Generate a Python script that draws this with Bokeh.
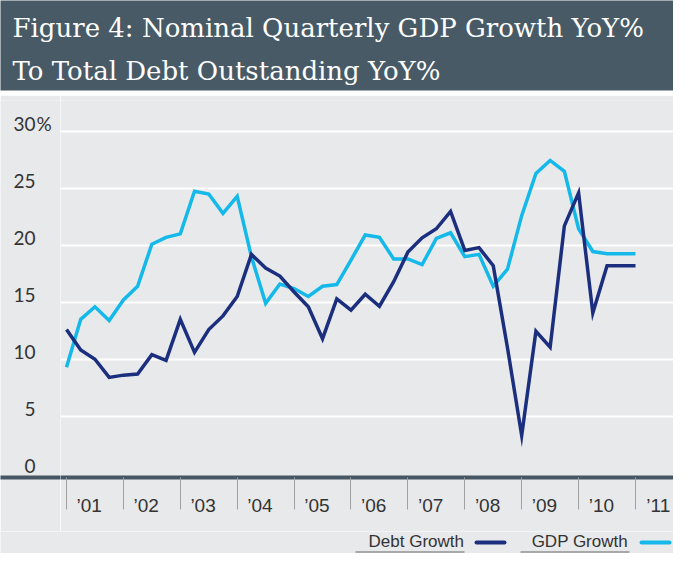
from bokeh.plotting import figure
from bokeh.models import Range1d, FixedTicker, Label, Grid
from bokeh.layouts import column, row
from bokeh.embed import file_html
from bokeh.resources import INLINE

# ---- data -------------------------------------------------------------
years = list(range(2001, 2012))
year_labels = ["’01", "’02", "’03", "’04", "’05", "’06", "’07", "’08", "’09", "’10", "’11"]
quarters = [f"{y}Q{q}" for y in range(2001, 2011) for q in range(1, 5)] + ["2011Q1"]
quarter_x = [int(s[:4]) + (int(s[5]) - 1) * 0.25 for s in quarters]

gdp_growth = [9.3, 13.5, 14.6, 13.4, 15.2, 16.4, 20.1, 20.7, 21.0, 24.75,
              24.5, 22.8, 24.3, 19.0, 14.9, 16.6, 16.2, 15.5, 16.4, 16.55,
              18.7, 20.9, 20.7, 18.8, 18.8, 18.3, 20.6, 21.1, 19.0, 19.2,
              16.4, 17.9, 22.6, 26.3, 27.45, 26.5, 21.45, 19.45, 19.25, 19.25,
              19.25]
debt_growth = [12.6, 10.8, 10.0, 8.4, 8.6, 8.7, 10.4, 9.9, 13.5, 10.6,
               12.6, 13.8, 15.5, 19.2, 18.0, 17.3, 15.9, 14.6, 11.8, 15.3,
               14.3, 15.7, 14.65, 16.8, 19.4, 20.65, 21.45, 22.97, 19.55, 19.8,
               18.2, 11.0, 3.3, 12.45, 11.05, 21.7, 24.6, 14.05, 18.2, 18.2,
               18.2]
y_ticks = [0, 5, 10, 15, 20, 25, 30]
y_labels = ["0", "5", "10", "15", "20", "25", "30"]
y_unit = "%"
title_lines = ["Figure 4: Nominal Quarterly GDP Growth YoY%",
               "To Total Debt Outstanding YoY%"]
series_names = ["Debt Growth", "GDP Growth"]

# ---- style ------------------------------------------------------------
BG = "#e8e9eb"
HEADER = "#475a66"
AXIS = "#465763"
DARK = "#1c2f7e"
LIGHT = "#14b9ea"
TXT = "#333333"
SANS = "Liberation Sans"
W, H = 673, 553
BASE_SHIFT = 0.37          # em offset of rendered baseline below anchor
LABEL_POS = 0.40           # year-label position inside each year band


def base_fig(**kw):
    f = figure(output_backend="svg", toolbar_location=None, **kw)
    f.background_fill_color = BG
    f.border_fill_color = BG
    f.outline_line_color = None
    f.grid.visible = False
    return f


# ---- header -----------------------------------------------------------
HH = 95
head = base_fig(width=W, height=HH, x_range=Range1d(0, W), y_range=Range1d(0, 90),
                x_axis_location=None, y_axis_location=None,
                min_border_left=0, min_border_right=0, min_border_top=0,
                min_border_bottom=5)
head.background_fill_color = HEADER
head.border_fill_color = "white"
TFS = 26
for txt, base in zip(title_lines, [37, 80.5]):
    head.add_layout(Label(x=12, y=90 - (base - BASE_SHIFT * TFS), text=txt,
                          text_baseline="alphabetic", text_align="left",
                          text_font="DejaVu Serif", text_font_size=f"{TFS}px",
                          text_color="white"))

# ---- main plot --------------------------------------------------------
yr = Range1d(-0.386, 32.71)
FRAME_TOP, FRAME_BOT = 100, 477
TOP, BOT = FRAME_TOP - HH, 54
PH = FRAME_BOT - HH + BOT
LW = 60

p = base_fig(width=W - LW, height=PH, x_range=Range1d(2000.8946, 2011.668), y_range=yr,
             y_axis_location=None, min_border_left=0, min_border_right=0,
             min_border_top=TOP, min_border_bottom=BOT)
p.add_layout(Grid(dimension=1, ticker=FixedTicker(ticks=y_ticks[1:]),
                  grid_line_color="white", grid_line_width=2))

p.xaxis.ticker = FixedTicker(ticks=[y + LABEL_POS for y in years], minor_ticks=years)
p.xaxis.major_label_overrides = {y + LABEL_POS: lab for y, lab in zip(years, year_labels)}
p.xaxis.axis_line_color = AXIS
p.xaxis.axis_line_width = 4
p.xaxis.major_tick_line_color = None
p.xaxis.major_tick_out = 0
p.xaxis.major_tick_in = 0
p.xaxis.minor_tick_line_color = "#a0a0a0"
p.xaxis.minor_tick_line_width = 1
p.xaxis.minor_tick_out = 32
p.xaxis.minor_tick_in = 0
p.xaxis.major_label_standoff = -15
p.xaxis.major_label_text_font = SANS
p.xaxis.major_label_text_font_size = "19px"
p.xaxis.major_label_text_color = TXT

p.line(quarter_x, gdp_growth, line_color=LIGHT, line_width=3.5, line_join="miter")
p.line(quarter_x, debt_growth, line_color=DARK, line_width=3.5, line_join="miter")

# ---- left strip with y tick labels ------------------------------------
left = base_fig(width=LW, height=PH, x_range=Range1d(0, LW), y_range=yr,
                y_axis_location=None, min_border_left=0, min_border_right=0,
                min_border_top=TOP, min_border_bottom=BOT)
left.xaxis.ticker = FixedTicker(ticks=[])
left.xaxis.axis_line_color = AXIS
left.xaxis.axis_line_width = 4
left.xaxis.major_tick_line_color = None
left.xaxis.minor_tick_line_color = None
left.xaxis.major_label_text_font_size = "0px"
YFS = 19
px_per_unit = (FRAME_BOT - FRAME_TOP) / (yr.end - yr.start)
lift = (BASE_SHIFT * YFS + 0.5) / px_per_unit
left.text(x=35, y=[t + lift for t in y_ticks], text=y_labels, text_align="right",
          text_baseline="alphabetic", text_font={"value": "Lato"},
          text_font_size=f"{YFS}px", text_color=TXT)
left.text(x=[36], y=[y_ticks[-1] + lift], text=[y_unit], text_align="left",
          text_baseline="alphabetic", text_font={"value": "Lato"},
          text_font_size=f"{YFS}px", text_color=TXT)

# ---- legend strip -----------------------------------------------------
LY0 = HH + PH
LH = H - LY0
leg = base_fig(width=W, height=LH, x_range=Range1d(0, W), y_range=Range1d(0, LH),
               x_axis_location=None, y_axis_location=None,
               min_border_left=0, min_border_right=0, min_border_top=0,
               min_border_bottom=0)
LFS = 17
text_base = 547.5
for name, col, tx, ul, sw in zip(series_names, [DARK, LIGHT],
                                 [463.5, 627.5], [(355, 464), (520, 629)],
                                 [(476, 504), (641, 669)]):
    leg.add_layout(Label(x=tx, y=H - (text_base - BASE_SHIFT * LFS), text=name,
                         text_baseline="alphabetic", text_align="right",
                         text_font=SANS, text_font_size=f"{LFS}px", text_color=TXT))
    leg.segment(x0=[ul[0]], y0=[H - 551.5], x1=[ul[1]], y1=[H - 551.5],
                line_color="#a8a8a8", line_width=2)
    leg.segment(x0=[sw[0]], y0=[H - 542], x1=[sw[1]], y1=[H - 542],
                line_color=col, line_width=4, line_cap="round")

layout = column(head, row(left, p, spacing=0), leg, spacing=0)
open("out.html", "w").write(file_html(layout, INLINE))
